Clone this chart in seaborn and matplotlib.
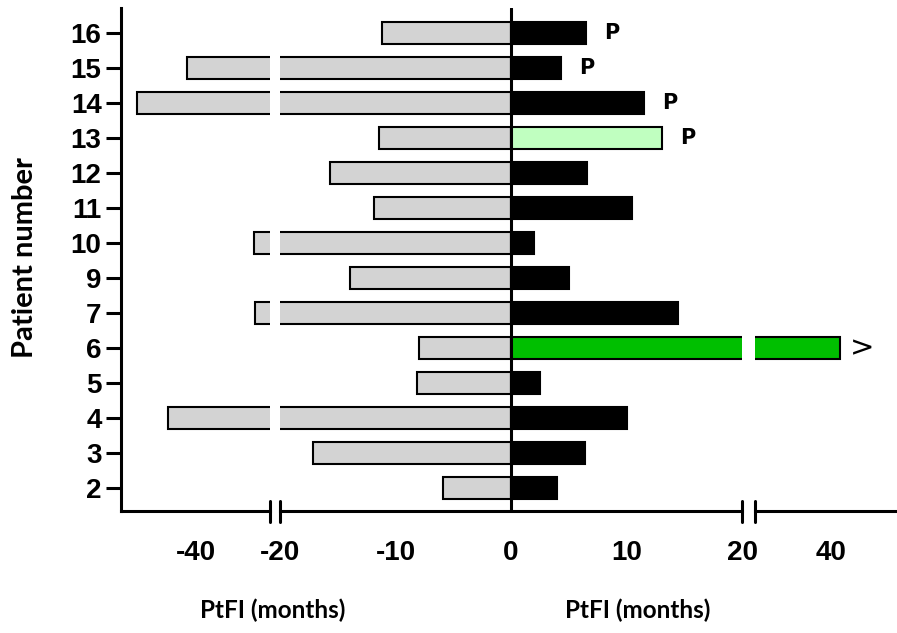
import matplotlib
matplotlib.use("Agg")
import matplotlib.pyplot as plt
from matplotlib.lines import Line2D
import seaborn as sns
import pandas as pd

# ---------------- data ----------------
patients = ["16", "15", "14", "13", "12", "11", "10", "9", "7", "6", "5", "4", "3", "2"]
ptfi_before = [-11.15, -42.4, -55.6, -11.45, -15.7, -11.9, -24.2, -13.9, -23.9, -8.0, -8.1, -47.4, -17.1, -5.85]
ptfi_after = [6.5, 4.35, 11.5, 13.1, 6.6, 10.5, 2.0, 5.0, 14.5, 42.5, 2.55, 10.05, 6.45, 3.95]
after_colors = ["#000000", "#000000", "#000000", "#c0ffc0", "#000000", "#000000", "#000000",
                "#000000", "#000000", "#00bf00", "#000000", "#000000", "#000000", "#000000"]
after_marks = ["P", "P", "P", "P", "", "", "", "", "", ">", "", "", "", ""]
before_color = "#d3d3d3"

seg_limits = [(-60, -20), (-20, 20), (20, 57.4)]
seg_ticks = [[-40], [-20, -10, 0, 10, 20], [40]]
x_label = "PtFI (months)"
y_label = "Patient number"

df = pd.DataFrame({"patient": patients, "before": ptfi_before, "after": ptfi_after})
palette = dict(zip(patients, after_colors))

# ---------------- figure ----------------
sns.set_style("white")
plt.rcParams["font.family"] = ["Liberation Sans", "DejaVu Sans"]
plt.rcParams["text.color"] = "black"
plt.rcParams["xtick.color"] = "black"
plt.rcParams["ytick.color"] = "black"
plt.rcParams["axes.labelcolor"] = "black"
W, H = 897, 633
fig = plt.figure(figsize=(W / 100, H / 100), dpi=100)

def fx(px):
    return px / W

bottom = 1 - 511 / H
height = (511 - 8) / H
seg_px = [(121, 270), (280, 742), (755, 897)]
axes = []
for (l, r) in seg_px:
    axes.append(fig.add_axes([fx(l), bottom, fx(r - l), height]))

spine_lw = 2.2
bar_w = 0.63
for i, ax in enumerate(axes):
    sns.barplot(data=df, x="before", y="patient", order=patients, orient="h",
                color=before_color, edgecolor="black", linewidth=1.5,
                width=bar_w, ax=ax, saturation=1)
    sns.barplot(data=df, x="after", y="patient", order=patients, orient="h",
                hue="patient", palette=palette, legend=False, dodge=False,
                edgecolor="black", linewidth=1.5, width=bar_w, ax=ax, saturation=1)
    ax.set_xlim(*seg_limits[i])
    ax.set_ylim(13.65, -0.705)
    ax.set_xlabel("")
    ax.set_ylabel("")
    ax.set_xticks(seg_ticks[i])
    ax.set_xticklabels([str(t) for t in seg_ticks[i]], fontsize=20, fontweight="bold",
                       color="black")
    ax.tick_params(axis="x", length=12, width=spine_lw, pad=9, color="black")
    for s in ["top", "right"]:
        ax.spines[s].set_visible(False)
    ax.spines["bottom"].set_linewidth(spine_lw)
    ax.spines["bottom"].set_color("black")
    if i == 0:
        ax.spines["left"].set_linewidth(spine_lw)
        ax.spines["left"].set_color("black")
        ax.set_yticks(range(len(patients)))
        ax.set_yticklabels(patients, fontsize=20, fontweight="bold", color="black")
        ax.tick_params(axis="y", length=11, width=spine_lw, pad=3, color="black", left=True)
    else:
        ax.spines["left"].set_visible(False)
        ax.set_yticks([])
    ax.set_facecolor("none")

# hide tick marks at the break ends of the middle segment
mid = axes[1]
xt = mid.xaxis.get_major_ticks()
xt[0].tick1line.set_visible(False)
xt[-1].tick1line.set_visible(False)

# zero line
mid.axvline(0, color="black", lw=spine_lw, zorder=5)

# break marks
mh = 10.5 / (511 - 8)
for ax, xs in [(axes[0], [1]), (axes[1], [0, 1]), (axes[2], [0])]:
    for xa in xs:
        ax.add_line(Line2D([xa, xa], [-mh, mh], transform=ax.transAxes,
                           color="black", lw=spine_lw, clip_on=False))

# annotations
for yi, (val, mark) in enumerate(zip(ptfi_after, after_marks)):
    if not mark:
        continue
    for i, ax in enumerate(axes):
        lo, hi = seg_limits[i]
        if lo <= val <= hi:
            if mark == "P":
                ax.annotate(mark, xy=(val, yi), xytext=(13, 0),
                            textcoords="offset points", ha="left", va="center",
                            fontsize=15, fontweight="bold", color="black",
                            family=["DejaVu Sans"], annotation_clip=False)
            else:
                ax.annotate(mark, xy=(val, yi), xytext=(7, 0),
                            textcoords="offset points", ha="left", va="center",
                            fontsize=21, fontweight="normal", color="black",
                            family=["DejaVu Sans"], annotation_clip=False)
            break

# axis titles
lab_font = ["Lato", "DejaVu Sans"]
fig.text(fx(273), 1 - 610 / H, x_label, ha="center", va="center",
         fontsize=17.5, fontweight="bold", family=lab_font)
fig.text(fx(638), 1 - 610 / H, x_label, ha="center", va="center",
         fontsize=17.5, fontweight="bold", family=lab_font)
fig.text(fx(25), 1 - 258 / H, y_label, ha="center", va="center", rotation=90,
         fontsize=21, fontweight="bold", family=lab_font)

fig.savefig("out.png", dpi=100)
